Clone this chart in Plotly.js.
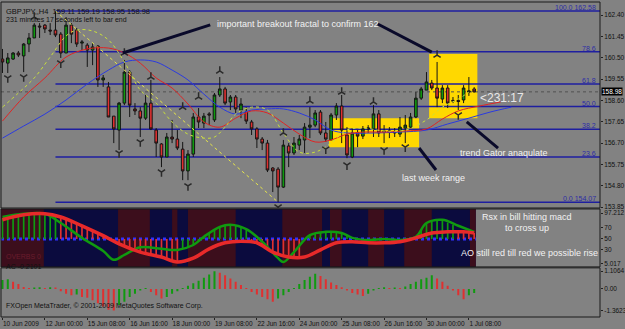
<!DOCTYPE html>
<html><head><meta charset="utf-8">
<script src="https://cdn.plot.ly/plotly-3.0.1.min.js"></script>
<style>html,body{margin:0;padding:0;background:#828282;}#chart{width:625px;height:329px;}</style>
</head><body><div id="chart"></div>
<script>
// ---------- price data (GBPJPY H4) ----------
const openP  = [160.44,160.26,160.44,160.71,160.58,161.11,161.38,161.91,161.95,161.73,
                161.73,161.55,160.71,161.95,161.73,161.15,161.06,160.84,161.02,159.51,
                159.20,157.90,157.28,158.48,159.86,158.22,158.13,157.81,158.48,157.28,
                156.66,156.08,156.97,156.88,156.43,155.46,156.21,157.86,157.59,158.00,
                157.73,158.84,159.11,158.53,158.75,158.17,158.08,157.64,157.33,156.88,
                156.70,155.59,155.54,154.74,156.57,156.26,156.61,156.84,157.41,157.50,
                158.08,157.15,156.84,157.95,158.35,157.06,156.08,157.15,157.01,157.33,
                157.33,158.00,157.24,157.19,157.15,157.10,157.37,157.41,157.86,158.70,
                159.06,159.37,159.15,158.66,159.15,158.60,158.60,158.62,158.97,159.11];
const highP  = [160.89,160.71,160.75,160.80,161.15,161.60,162.04,162.04,162.00,162.04,
                162.58,161.64,162.31,162.04,161.82,161.29,161.15,161.15,161.06,159.73,
                159.42,157.90,158.53,160.40,159.95,158.48,158.30,158.84,159.51,157.37,
                156.70,157.15,157.73,157.28,156.75,156.39,158.04,158.26,158.04,158.08,
                158.93,159.64,159.20,158.84,158.84,158.70,158.30,157.73,157.41,156.97,
                156.84,155.63,155.63,156.84,156.70,156.97,157.06,157.59,158.30,158.17,
                158.17,157.64,158.04,158.48,158.84,157.41,157.37,157.28,157.46,157.50,
                158.39,158.17,157.50,157.41,157.37,157.86,157.95,158.04,158.97,159.20,
                159.86,159.51,160.31,159.28,159.28,158.75,158.84,159.28,159.64,159.19];
const lowP   = [159.82,159.82,160.40,160.53,159.86,160.75,161.38,161.38,161.60,161.51,
                161.42,160.49,160.71,161.15,160.98,160.84,160.09,160.17,159.20,159.20,
                157.86,156.70,156.39,158.39,157.86,157.95,156.97,157.73,157.28,156.08,
                155.63,156.08,156.70,156.39,155.05,155.05,156.08,157.37,157.37,157.50,
                157.64,158.75,158.39,158.17,158.04,157.81,157.55,157.06,156.48,156.39,
                155.41,154.52,154.07,154.70,155.63,156.17,156.39,156.26,156.92,157.41,
                157.06,156.75,156.84,157.73,156.70,156.03,156.03,156.52,156.88,157.15,
                156.97,156.97,156.70,156.92,156.97,156.97,156.70,157.37,157.81,158.62,
                159.06,159.06,158.30,158.48,158.26,158.48,158.17,158.48,158.80,158.95];
const closeP = [160.31,160.49,160.71,160.62,161.11,161.38,161.95,161.87,161.78,161.69,
                161.51,160.71,161.95,161.55,161.11,161.20,160.84,160.98,159.51,159.60,
                157.86,157.33,158.48,159.86,158.39,158.13,157.81,158.48,157.33,156.70,
                156.08,156.97,156.88,156.48,155.46,156.21,157.86,157.64,157.90,157.95,
                158.84,159.11,158.48,158.75,158.22,158.44,157.68,157.33,156.88,156.70,
                155.50,155.46,154.74,156.61,156.26,156.70,156.88,157.41,157.50,158.04,
                157.15,156.88,157.95,158.35,157.28,156.17,157.15,157.01,157.33,157.37,
                158.00,157.15,157.19,157.24,157.19,157.41,157.50,157.86,158.70,159.11,
                159.42,159.15,158.70,159.15,158.48,158.57,158.55,159.15,159.02,158.98];

// x tick labels (every 8 bars)
const tickIdx    = [0,8,16,24,32,40,48,56,64,72,80,88];
const tickLabels = ['10 Jun 2009','12 Jun 00:00','15 Jun 08:00','16 Jun 16:00','18 Jun 00:00','19 Jun 08:00',
                    '22 Jun 16:00','24 Jun 00:00','25 Jun 08:00','26 Jun 16:00','30 Jun 00:00','1 Jul 08:00'];
const priceTicks = [162.40,161.45,160.50,159.55,158.60,157.65,156.70,155.75,154.80,153.85];

// Alligator lines (jaw blue, teeth red, lips lime)
const jawIdx = [0,4,8,12,16,20,23,26,29,32,35,38,41,44,47,50,53,56,59,62,65,70,75,80,84,88,92,96];
const jawVal = [156.92,157.46,157.99,158.62,159.33,159.95,160.31,160.40,160.31,159.95,159.51,158.88,158.30,157.99,
                158.17,158.22,158.22,158.04,157.73,157.28,157.15,157.15,157.19,157.28,157.55,157.81,158.08,158.30];
const teethIdx = [0,4,8,12,16,20,23,26,29,32,35,38,41,44,47,50,53,56,59,62,65,68,72,76,80,83,86,90,94];
const teethVal = [157.68,158.75,159.60,160.53,160.89,160.93,160.71,160.26,159.60,159.15,158.44,157.64,157.41,157.81,
                  158.13,158.04,157.59,157.10,156.75,156.84,157.10,157.19,157.19,157.24,157.33,157.77,158.13,158.35,158.53];
const lipsIdx = [0,3,6,9,12,14,17,20,23,26,29,32,35,38,40,42,44,47,50,53,56,59,62,65,68,72,76,80,83,86,88];
const lipsVal = [158.30,158.93,159.60,160.53,161.47,161.73,161.69,161.29,160.31,159.06,158.48,157.64,157.10,156.92,
                 156.97,157.41,157.99,158.30,158.17,157.15,156.30,156.30,156.70,157.28,157.37,157.24,157.28,157.73,
                 158.30,158.66,158.97];

// Fibonacci
const fibLevels = [162.58,160.76,159.33,158.325,157.32,156.08,154.07];
const fibLabels = ['100.0 162.58','78.6','61.8','50.0','38.2','23.6','0.0 154.07'];
const fibStart = 10;
const trendIdx = [10,52];
const trendVal = [162.58,154.07];

// fractals
const fracUpIdx   = [6,23,28,34,37,41,53,58,64,70,82];
const fracUpPrice = [162.31,160.71,159.64,158.30,158.75,159.91,157.15,158.57,158.97,158.53,160.62];
const fracDnIdx   = [1,4,11,22,26,30,35,52,61,65,72,76,86];
const fracDnPrice = [159.60,159.64,160.26,156.26,156.75,155.41,154.79,153.85,156.43,155.72,156.39,156.52,157.95];

// highlighted boxes [x0,x1,y0,y1]
const boxWeek  = [61.6,78.6,156.52,157.81];
const boxGator = [80.5,89.6,157.81,160.66];

// RSX panel
const histVal = [88,90,92,93,94,95,96,96,95,93,90,
                 90,86,82,78,74,70,65,61,56,51,46,
                 41,37,33,29,26,24,21,19,17,14,11,8,
                 32,35,39,46,54,60,66,72,74,76,74,71,68,
                 43,43,38,32,26,21,18,17,17,17,
                 50,57,60,62,63,63,62,61,56,52,50,49,
                 48,52,49,50,48,51,48,52,53,54,65,
                 79,83,85,84,80,76,
                 66,64,63,61];
const histUp = [1,1,1,1,1,1,1,1,1,1,1,
                0,0,0,0,0,0,0,0,0,0,0,0,0,0,0,0,0,0,0,0,0,0,0,
                1,1,1,1,1,1,1,1,1,1,1,1,1,
                0,0,0,0,0,0,0,0,0,0,
                1,1,1,1,1,1,1,1,1,1,1,1,
                0,1,0,1,0,1,0,1,1,1,1,
                1,1,1,1,1,1,
                0,0,0,0];
const rsxIdx = [0,4,8,11,15,19,21,23,26,30,33,36,38,41,43,46,49,52,53,55,58,61,64,66,69,72,75,78,80,83,86,89];
const rsxVal = [90,96,96,79,52,28,12,21,35,32,30,39,54,72,76,68,45,15,8,26,57,63,61,52,48,50,48,54,79,85,74,63];
const sigIdx = [0,4,8,11,15,19,22,26,30,33,36,39,42,45,48,51,54,57,60,63,66,69,72,75,78,81,84,87,89];
const sigVal = [85,94,96,90,74,56,41,26,17,8,15,32,43,46,43,26,17,17,30,43,45,43,43,45,52,61,63,63,61];
const zoneStart = [-0.3,21.8,32,35,52.8,61.8,69,75.8,88.2];
const zoneEnd   = [7.8,27.8,33,44,60.3,64,72,81,89.3];
const rsxTicks = [97.212,70,50,30,5.017];

// AC panel
const acVal = [0.55,0.6,0.45,0.3,0.12,0.05,0.08,0.1,0.05,0.1,
               0.08,-0.15,-0.3,-0.4,-0.35,-0.5,-0.55,-0.7,-0.9,-1.1,
               -1.3,-1.35,-1.0,-0.8,-0.5,-0.3,-0.1,0.05,-0.2,-0.4,
               -0.6,-0.5,-0.3,-0.15,0.05,0.2,0.35,0.5,0.7,0.9,
               1.1,1.0,0.85,0.65,0.45,0.25,0.05,-0.2,-0.35,-0.5,
               -0.65,-0.8,-0.6,-0.4,-0.2,0.05,0.3,0.55,0.75,0.95,
               0.8,0.6,0.4,0.25,0.1,-0.1,-0.25,-0.35,-0.45,-0.3,
               -0.1,0.05,0.1,0.05,0.08,0.05,0.15,0.3,0.45,0.6,
               0.7,0.85,0.65,0.45,0.2,-0.1,-0.4,-0.65,-0.4,-0.25];

// ---------- build ----------
const barIdx = openP.map((_, i) => i);
const XR = [-0.28, 112.74];
const FONT = 'Liberation Sans, Arial, sans-serif';
const GREEN = '#109a10', RED = '#e03030';
const px = x => (x - 1) / 599;
const py = y => (317 - y) / 315;

const traces = [];
traces.push({type:'candlestick', x:barIdx, open:openP, high:highP, low:lowP, close:closeP,
  xaxis:'x', yaxis:'y', whiskerwidth:0, hoverinfo:'skip',
  increasing:{line:{color:'#141414', width:1}, fillcolor:GREEN},
  decreasing:{line:{color:'#141414', width:1}, fillcolor:RED}});
traces.push({type:'scatter', mode:'lines', x:trendIdx, y:trendVal, xaxis:'x', yaxis:'y',
  line:{color:'#e6e64a', width:1, dash:'dot'}, hoverinfo:'skip'});
traces.push({type:'scatter', mode:'lines', x:jawIdx, y:jawVal, xaxis:'x', yaxis:'y',
  line:{color:'#2a3ae0', width:1, shape:'spline'}, hoverinfo:'skip'});
traces.push({type:'scatter', mode:'lines', x:teethIdx, y:teethVal, xaxis:'x', yaxis:'y',
  line:{color:'#e02424', width:1, shape:'spline'}, hoverinfo:'skip'});
traces.push({type:'scatter', mode:'lines', x:lipsIdx, y:lipsVal, xaxis:'x', yaxis:'y',
  line:{color:'#c8e03c', width:1, dash:'dot', shape:'spline'}, hoverinfo:'skip'});
traces.push({type:'scatter', mode:'markers', x:fracUpIdx, y:fracUpPrice, xaxis:'x', yaxis:'y',
  marker:{symbol:'y-up', size:6, line:{color:'#2a2a2a', width:1.5}}, hoverinfo:'skip'});
traces.push({type:'scatter', mode:'markers', x:fracDnIdx, y:fracDnPrice, xaxis:'x', yaxis:'y',
  marker:{symbol:'y-down', size:6, line:{color:'#2a2a2a', width:1.5}}, hoverinfo:'skip'});

// RSX panel
traces.push({type:'bar', x:barIdx, y:histVal.map(v => v - 50), base:50, width:0.32,
  xaxis:'x', yaxis:'y2', marker:{color:histUp.map(u => u ? GREEN : RED)}, hoverinfo:'skip'});
traces.push({type:'scatter', mode:'lines', x:rsxIdx, y:rsxVal, xaxis:'x', yaxis:'y2',
  line:{color:'#109a10', width:2.5, shape:'spline'}, hoverinfo:'skip'});
traces.push({type:'scatter', mode:'lines', x:sigIdx, y:sigVal, xaxis:'x', yaxis:'y2',
  line:{color:'#e82a2a', width:3.5, shape:'spline'}, hoverinfo:'skip'});

// AC panel
traces.push({type:'bar', x:barIdx, y:acVal, width:0.38, xaxis:'x', yaxis:'y3',
  marker:{color:acVal.map((v, i) => (i === 0 || v >= acVal[i-1]) ? GREEN : RED)}, hoverinfo:'skip'});

const shapes = [];
// panel 2 background
shapes.push({type:'rect', xref:'x', yref:'y2 domain', x0:XR[0], x1:zoneEnd[zoneEnd.length-1], y0:0, y1:1,
  fillcolor:'#0b0b3e', line:{width:0}, layer:'below'});
zoneStart.forEach((s, i) => shapes.push({type:'rect', xref:'x', yref:'y2 domain', x0:s, x1:zoneEnd[i], y0:0, y1:1,
  fillcolor:'#3c0e1c', line:{width:0}, layer:'below'}));
shapes.push({type:'line', xref:'x', yref:'y2', x0:XR[0], x1:89.3, y0:50, y1:50,
  line:{color:'#3030ff', width:3, dash:'dot'}, layer:'below'});
// boxes
[boxWeek, boxGator].forEach(b => shapes.push({type:'rect', xref:'x', yref:'y', x0:b[0], x1:b[1], y0:b[2], y1:b[3],
  fillcolor:'#ffd800', line:{width:0}, layer:'below'}));
// bid line
shapes.push({type:'line', xref:'x', yref:'y', x0:XR[0], x1:XR[1], y0:closeP[closeP.length-1], y1:closeP[closeP.length-1],
  line:{color:'#505050', width:1, dash:'dot'}, layer:'below'});
// fib lines
fibLevels.forEach(l => shapes.push({type:'line', xref:'x', yref:'y', x0:fibStart, x1:XR[1], y0:l, y1:l,
  line:{color:'#1e1ea0', width:1.5}, layer:'below'}));
// annotation arrows
const arrows = [[39.2,161.96,22.7,160.71],[70.8,162.00,81.0,160.75],[87.6,157.64,93.5,156.48],[78.6,156.48,81.8,155.50]];
arrows.forEach(a => shapes.push({type:'line', xref:'x', yref:'y', x0:a[0], y0:a[1], x1:a[2], y1:a[3],
  line:{color:'#0a0a2a', width:3}}));
// panel frames
[[0.346,1],[0.159,0.343],[0,0.156]].forEach(d => shapes.push({type:'rect', xref:'paper', yref:'paper',
  x0:0, x1:1, y0:d[0], y1:d[1], line:{color:'#1a1a1a', width:1}, fillcolor:'rgba(0,0,0,0)'}));

const ann = [];
const W = '#f2f2f2';
ann.push({xref:'x', yref:'y', x:55.8, y:162.00, text:'important breakout fractal to confirm 162', showarrow:false,
  font:{family:FONT, size:9, color:W}});
ann.push({xref:'x', yref:'y', x:89.7, y:158.70, text:'<231:17', showarrow:false, xanchor:'left',
  font:{family:FONT, size:12, color:'#e8e8e8'}});
ann.push({xref:'x', yref:'y', x:94.6, y:156.26, text:'trend Gator anaqulate', showarrow:false,
  font:{family:FONT, size:9, color:W}});
ann.push({xref:'x', yref:'y', x:81.4, y:155.14, text:'last week range', showarrow:false,
  font:{family:FONT, size:9, color:W}});
ann.push({xref:'x', yref:'y2', x:99, y:90, text:'Rsx in bill hitting macd', showarrow:false,
  font:{family:FONT, size:9, color:W}});
ann.push({xref:'x', yref:'y2', x:99, y:70, text:'to cross up', showarrow:false,
  font:{family:FONT, size:9, color:W}});
ann.push({xref:'x', yref:'y2', x:99.5, y:24.5, text:'AO still red till red we possible rise', showarrow:false,
  font:{family:FONT, size:9, color:W}});
fibLevels.forEach((l, i) => ann.push({xref:'paper', yref:'y', x:0.997, y:l, text:fibLabels[i], showarrow:false,
  xanchor:'right', yanchor:'bottom', yshift:-2, font:{family:FONT, size:7, color:'#2c2ca6'}}));
ann.push({xref:'paper', yref:'y', x:1.002, y:closeP[closeP.length-1], text:closeP[closeP.length-1].toFixed(2),
  showarrow:false, xanchor:'left', bgcolor:'#000000', borderpad:0, font:{family:FONT, size:6.5, color:'#ffffff'}});
ann.push({xref:'paper', yref:'paper', x:px(4), y:py(5), xanchor:'left', showarrow:false,
  text:'GBPJPY,,H4  159.11 159.19 158.95 158.98', font:{family:FONT, size:7.5, color:'#111111'}});
ann.push({xref:'paper', yref:'paper', x:px(4), y:py(14), xanchor:'left', showarrow:false,
  text:'231 minutes 17 seconds left to bar end', font:{family:FONT, size:7, color:'#111111'}});
ann.push({xref:'paper', yref:'paper', x:px(4), y:py(262), xanchor:'left', showarrow:false,
  text:'OVERBS 0', font:{family:FONT, size:7, color:'#6a1c2c'}});
ann.push({xref:'paper', yref:'paper', x:px(4), y:py(272), xanchor:'left', showarrow:false,
  text:'AC -0.2101', font:{family:FONT, size:7, color:'#111111'}});
ann.push({xref:'paper', yref:'paper', x:px(4), y:py(312), xanchor:'left', showarrow:false,
  text:'FXOpen MetaTrader, © 2001-2009 MetaQuotes Software Corp.', font:{family:FONT, size:7, color:'#111111'}});

const axFont = {family:FONT, size:6.5, color:'#111111'};
const yCommon = {side:'right', showgrid:false, zeroline:false, ticks:'outside', ticklen:2, tickcolor:'#222', tickfont:axFont};
const layout = {
  width:625, height:329, margin:{l:1, r:25, t:2, b:12},
  paper_bgcolor:'#828282', plot_bgcolor:'#828282', showlegend:false, barmode:'overlay',
  xaxis:{range:XR, anchor:'y3', showgrid:false, zeroline:false, tickvals:tickIdx, ticktext:tickLabels, tickangle:0,
    ticks:'outside', ticklen:2, tickcolor:'#222', tickfont:{family:FONT, size:6.5, color:'#111111'},
    ticklabelposition:'outside right', rangeslider:{visible:false}, fixedrange:true},
  yaxis:Object.assign({domain:[0.346,1], range:[153.81,162.98],
    tickvals:priceTicks, ticktext:priceTicks.map(v => v.toFixed(2))}, yCommon),
  yaxis2:Object.assign({domain:[0.159,0.343], range:[-1,104.7], anchor:'x',
    tickvals:rsxTicks, ticktext:rsxTicks.map(String)}, yCommon),
  yaxis3:Object.assign({domain:[0,0.156], range:[-1.75,1.31], anchor:'x',
    tickvals:[1.1064,0,-1.3623], ticktext:['1.1064','0.00','-1.3623']}, yCommon),
  shapes:shapes, annotations:ann
};
Plotly.newPlot('chart', traces, layout, {displayModeBar:false, staticPlot:true});
</script></body></html>
